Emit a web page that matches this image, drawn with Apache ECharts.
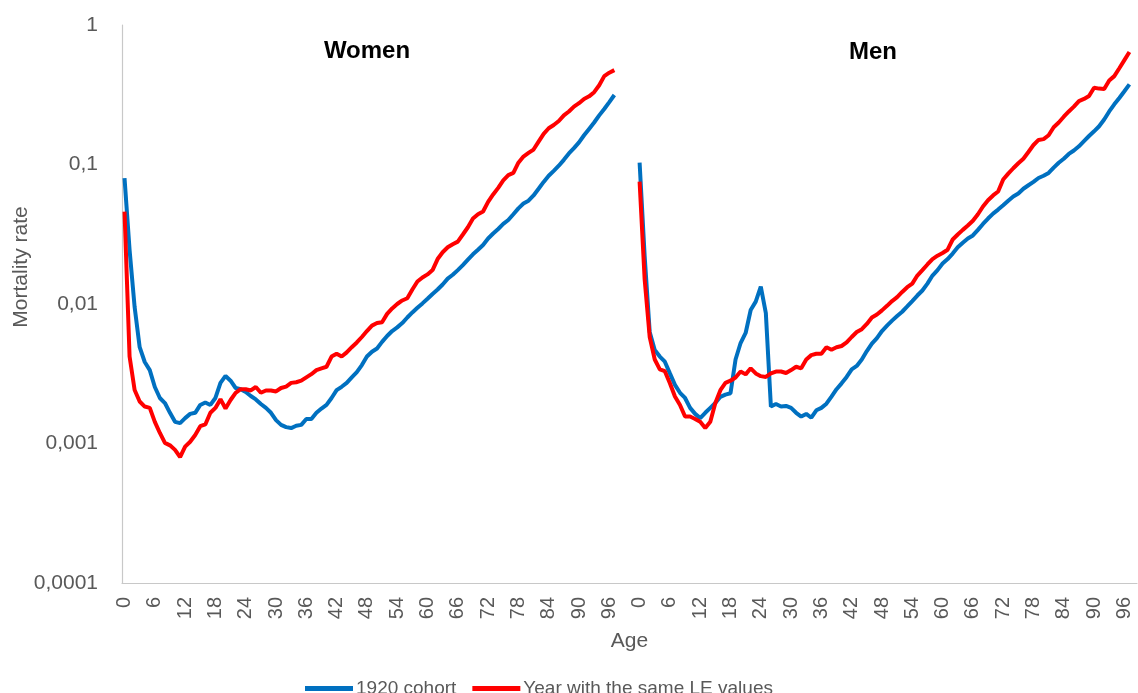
<!DOCTYPE html>
<html>
<head>
<meta charset="utf-8">
<script src="https://cdn.jsdelivr.net/npm/echarts@6/dist/echarts.min.js"></script>
<style>
html,body{margin:0;padding:0;background:#fff;}
#chart{width:1138px;height:693px;}
</style>
</head>
<body>
<div id="chart"></div>
<script>
// Category (age) labels: women panel then men panel
const womenAges = Array.from({length: 102}, (_, i) => String(i));
const menAges = Array.from({length: 99}, (_, i) => String(i));

const yTickLabels = ['0,0001', '0,001', '0,01', '0,1', '1'];

const panelTitles = ['Women', 'Men'];
const seriesNames = ['1920 cohort', 'Year with the same LE values'];

// Women, ages 0..97
const womenCohort = [
  0.080, 0.0244, 0.0095, 0.0049, 0.00384, 0.00336, 0.00254, 0.00212, 0.00195, 0.00166,
  0.00143, 0.0014, 0.00152, 0.00163, 0.00166, 0.00189, 0.00197, 0.00189, 0.00212, 0.00272,
  0.00305, 0.00282, 0.0025, 0.00245, 0.00234, 0.00219, 0.00207, 0.00192, 0.0018, 0.00166,
  0.00147, 0.00136, 0.00131, 0.00129, 0.00134, 0.00136, 0.0015, 0.0015, 0.00166, 0.00178,
  0.00189, 0.00212, 0.00241, 0.00255, 0.00272, 0.00298, 0.00325, 0.00365, 0.0042, 0.00455,
  0.0048, 0.00535, 0.0059, 0.0064, 0.0068, 0.0073, 0.008, 0.0087, 0.0094, 0.0101,
  0.0109, 0.0118, 0.0127, 0.0138, 0.0152, 0.0162, 0.0175, 0.019, 0.0208, 0.0227,
  0.0245, 0.0265, 0.0295, 0.032, 0.0345, 0.0375, 0.04, 0.044, 0.0485, 0.0525,
  0.055, 0.06, 0.067, 0.075, 0.083, 0.09, 0.098, 0.108, 0.12, 0.131,
  0.144, 0.162, 0.18, 0.2, 0.225, 0.25, 0.28, 0.315
];
const womenSameLE = [
  0.0459, 0.0042, 0.00242, 0.002, 0.00184, 0.0018, 0.00143, 0.00119, 0.00101, 0.00097,
  0.0009, 0.0008, 0.00095, 0.00103, 0.00115, 0.00133, 0.00137, 0.00166, 0.0018, 0.00208,
  0.00178, 0.00205, 0.00231, 0.00245, 0.00245, 0.0024, 0.00254, 0.00231, 0.0024, 0.0024,
  0.00236, 0.0025, 0.00256, 0.00272, 0.00275, 0.00282, 0.00298, 0.00314, 0.00336, 0.00346,
  0.00355, 0.0042, 0.0044, 0.0042, 0.0045, 0.0049, 0.0053, 0.0058, 0.0064, 0.007,
  0.0073, 0.0074, 0.0085, 0.0093, 0.01, 0.0106, 0.011, 0.0127, 0.0145, 0.0155,
  0.0163, 0.0175, 0.021, 0.0235, 0.0255, 0.0268, 0.028, 0.0315, 0.0355, 0.041,
  0.044, 0.046, 0.054, 0.061, 0.068, 0.077, 0.084, 0.087, 0.103, 0.114,
  0.121, 0.128, 0.146, 0.166, 0.182, 0.192, 0.205, 0.225, 0.24, 0.26,
  0.275, 0.295, 0.308, 0.33, 0.37, 0.43, 0.455, 0.475
];

// Men, ages 0..97
const menCohort = [
  0.103, 0.022, 0.0063, 0.00468, 0.0042, 0.00386, 0.00318, 0.00263, 0.00231, 0.00212,
  0.0018, 0.00163, 0.00152, 0.00166, 0.0018, 0.00195, 0.00216, 0.00224, 0.00229, 0.004,
  0.00525, 0.0062, 0.00906, 0.0104, 0.0133, 0.0086, 0.00184, 0.00192, 0.00184, 0.00186,
  0.0018, 0.00166, 0.00156, 0.00163, 0.00153, 0.00173, 0.0018, 0.00193, 0.00217, 0.00245,
  0.0027, 0.003, 0.0034, 0.0036, 0.004, 0.0046, 0.0052, 0.0057, 0.0064, 0.007,
  0.0076, 0.0082, 0.0088, 0.0096, 0.0105, 0.0115, 0.0125, 0.014, 0.016, 0.0175,
  0.0195, 0.021, 0.023, 0.0255, 0.0275, 0.0295, 0.031, 0.034, 0.0375, 0.041,
  0.0445, 0.0475, 0.051, 0.055, 0.059, 0.062, 0.067, 0.071, 0.075, 0.08,
  0.083, 0.087, 0.095, 0.103, 0.11, 0.119, 0.126, 0.135, 0.147, 0.16,
  0.173, 0.188, 0.21, 0.24, 0.27, 0.3, 0.335, 0.375
];
const menSameLE = [
  0.0753, 0.015, 0.0058, 0.004, 0.0034, 0.0033, 0.0027, 0.00217, 0.00189, 0.00156,
  0.00156, 0.0015, 0.00143, 0.00129, 0.00143, 0.00195, 0.00241, 0.00272, 0.00282, 0.00297,
  0.00328, 0.00313, 0.00346, 0.00318, 0.00304, 0.003, 0.00318, 0.00328, 0.00328, 0.0032,
  0.00336, 0.00355, 0.00346, 0.004, 0.0043, 0.0044, 0.0044, 0.0049, 0.0047, 0.0049,
  0.005, 0.0053, 0.0058, 0.0063, 0.0066, 0.0072, 0.008, 0.0084, 0.009, 0.0097,
  0.0105, 0.0112, 0.0122, 0.0132, 0.014, 0.016, 0.0175, 0.0192, 0.021, 0.0222,
  0.0232, 0.0245, 0.029, 0.0315, 0.034, 0.0365, 0.0395, 0.044, 0.05, 0.0555,
  0.06, 0.064, 0.078, 0.086, 0.094, 0.102, 0.11, 0.123, 0.138, 0.15,
  0.152, 0.162, 0.185, 0.2, 0.22, 0.24, 0.26, 0.285, 0.295, 0.31,
  0.355, 0.35, 0.348, 0.4, 0.43, 0.49, 0.56, 0.64
];

function pad(arr, len) {
  const out = arr.slice();
  while (out.length < len) out.push(null);
  return out;
}
const categories = womenAges.concat(menAges);
const cohortSeries = pad(womenCohort, womenAges.length).concat(pad(menCohort, menAges.length));
const sameLESeries = pad(womenSameLE, womenAges.length).concat(pad(menSameLE, menAges.length));

const FONT = 'Liberation Sans';
const GREY = '#595959';

const chart = echarts.init(document.getElementById('chart'), null, {renderer: 'canvas'});
chart.setOption({
  animation: false,
  backgroundColor: '#ffffff',
  textStyle: {fontFamily: FONT},
  title: [
    {text: panelTitles[0], left: 367, top: 39, textAlign: 'center', padding: 0,
     textStyle: {fontFamily: FONT, fontSize: 24, fontWeight: 'bold', color: '#000'}},
    {text: panelTitles[1], left: 873, top: 40, textAlign: 'center', padding: 0,
     textStyle: {fontFamily: FONT, fontSize: 24, fontWeight: 'bold', color: '#000'}}
  ],
  legend: {
    left: 300,
    top: 674,
    itemWidth: 48,
    itemHeight: 5,
    itemGap: 16,
    icon: 'rect',
    textStyle: {fontFamily: FONT, fontSize: 19, color: GREY, padding: [0, 0, 0, -2]},
    data: seriesNames
  },
  grid: {left: 122, right: 1, top: 25, bottom: 110, containLabel: false, outerBoundsMode: 'none'},
  xAxis: {
    type: 'category',
    data: categories,
    boundaryGap: true,
    name: 'Age',
    nameLocation: 'middle',
    nameGap: 48,
    nameMoveOverlap: false,
    nameTextStyle: {fontFamily: FONT, fontSize: 21, color: GREY},
    axisLine: {lineStyle: {color: '#c8c8c8', width: 1.2}},
    axisTick: {show: false},
    axisLabel: {interval: 5, rotate: 90, margin: 14, fontFamily: FONT, fontSize: 20, color: GREY},
    splitLine: {show: false}
  },
  yAxis: {
    type: 'log',
    logBase: 10,
    min: 0.0001,
    max: 1,
    name: 'Mortality rate',
    nameLocation: 'middle',
    nameRotate: 90,
    nameGap: 90,
    nameMoveOverlap: false,
    nameTextStyle: {fontFamily: FONT, fontSize: 21, color: GREY, padding: [0, 0, 0, 74]},
    axisLine: {show: true, lineStyle: {color: '#c8c8c8', width: 1.2}},
    axisTick: {show: false},
    splitLine: {show: false},
    axisLabel: {
      margin: 24, fontFamily: FONT, fontSize: 21, color: GREY,
      formatter: function (v) {
        const e = Math.round(Math.log10(v));
        return yTickLabels[e + 4];
      }
    }
  },
  series: [
    {name: seriesNames[0], type: 'line', data: cohortSeries, showSymbol: false, connectNulls: false,
     color: '#0070C0', lineStyle: {color: '#0070C0', width: 4}},
    {name: seriesNames[1], type: 'line', data: sameLESeries, showSymbol: false, connectNulls: false,
     color: '#FF0000', lineStyle: {color: '#FF0000', width: 4}}
  ]
});
</script>
</body>
</html>
